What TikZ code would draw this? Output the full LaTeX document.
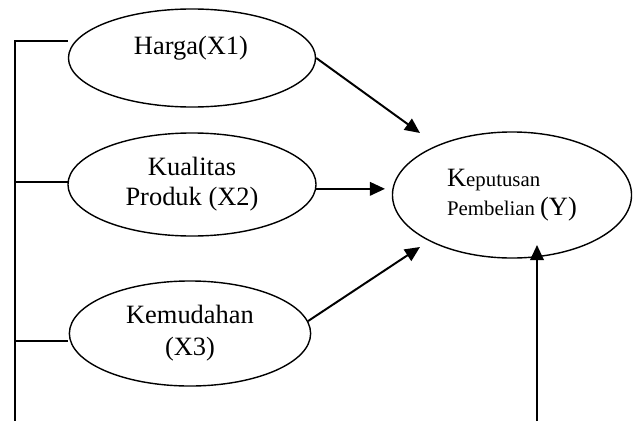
\documentclass[tikz,border=0pt]{standalone}
\usepackage{fontspec}
\setmainfont{Liberation Serif}
\usepackage{tikz}
\usetikzlibrary{arrows.meta, positioning, shapes.geometric}
\definecolor{DiagInk}{HTML}{000000}

\begin{document}
\begin{tikzpicture}[x=0.025cm, y=-0.025cm,
  font=\fontsize{18.8}{21.5}\selectfont,
  var/.style={ellipse, draw=DiagInk, line width=1pt, inner sep=0pt, align=center},
  arr/.style={-{Triangle[length=10.7pt, width=9.6pt]}, line width=1.4pt, draw=DiagInk},
  rail/.style={line width=1.1pt, draw=DiagInk}]
\useasboundingbox (0,0) rectangle (637,421);

\node[var, minimum width=6.175cm, minimum height=2.45cm] (harga) at (192,58) {};
\node (hargaText) at (191,48) {Harga(X1)};

\node[var, minimum width=6.2cm, minimum height=2.575cm] (kualitas) at (192,184.5)
  {Kualitas\\Produk (X2)};

\node[var, minimum width=6.03cm, minimum height=2.625cm, font=\fontsize{18.8}{22.8}\selectfont]
  (kemudahan) at (190,333.5) {Kemudahan\\(X3)};

\node[var, minimum width=5.975cm, minimum height=3.15cm, align=left,
  font=\fontsize{18.8}{20.6}\selectfont] (keputusan) at (512,195)
  {K{\fontsize{14.8}{20.6}\selectfont eputusan}\\{\fontsize{14.8}{20.6}\selectfont Pembelian }(Y)};

\coordinate (railTop) at (15,40);
\coordinate (railBot) at (15,421);
\draw[rail] (railTop) -- (railBot);
\foreach \y/\n in {41/1, 182/2, 341/3} {
  \coordinate (rail\n) at (15,\y);
  \coordinate (stub\n) at (68,\y);
  \draw[rail] (rail\n) -- (stub\n);
}

\coordinate (tipA) at (420,133);
\coordinate (tipB) at (385,190);
\coordinate (tipC) at (420,247);
\coordinate (tipD) at (537,245);
\coordinate (footD) at (537,421);

\draw[arr] (harga.east) -- (tipA);
\draw[arr] (kualitas.-2.5) -- (kualitas.-2.5 -| tipB);
\draw[arr] (kemudahan.6) -- (tipC);
\draw[arr] (footD) -- (tipD);
\end{tikzpicture}
\end{document}
